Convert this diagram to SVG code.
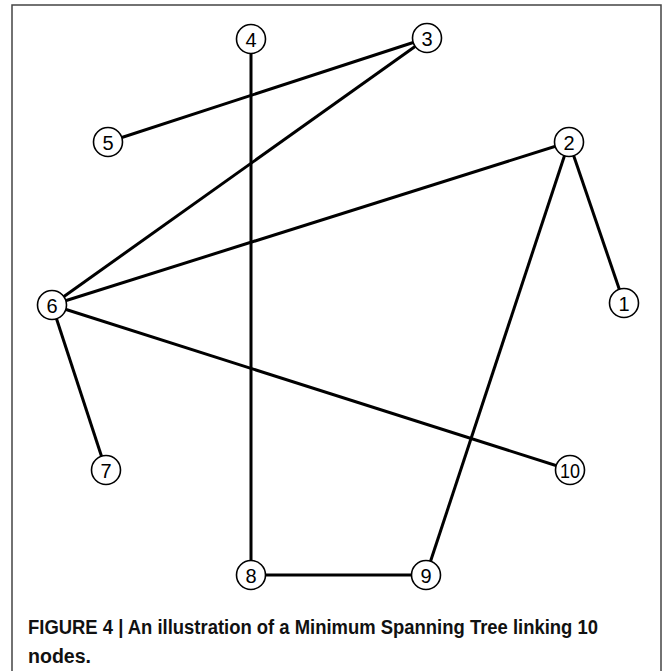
<svg xmlns="http://www.w3.org/2000/svg" width="670" height="671" viewBox="0 0 670 671">
<style>
.edge{stroke:#000;stroke-width:3;stroke-linecap:butt;fill:none}
.node circle{fill:#fff;stroke:#000;stroke-width:1.6}
.node text{font-family:"Liberation Sans",Arial,sans-serif;font-size:20px;fill:#000;text-anchor:middle;dominant-baseline:central}
.cap{font-family:"Liberation Sans",Arial,sans-serif;font-size:20px;font-weight:bold;fill:#111}
</style>
<rect x="0" y="0" width="670" height="671" fill="#fff"/>
<path d="M12,680 V5 H661 V680" fill="none" stroke="#444" stroke-width="1.5"/>
<g id="connectors">
<line class="edge" x1="251" y1="39" x2="251" y2="575"/>
<line class="edge" x1="427" y1="38" x2="108" y2="142"/>
<line class="edge" x1="427" y1="38" x2="52" y2="305"/>
<line class="edge" x1="569" y1="142" x2="52" y2="305"/>
<line class="edge" x1="569" y1="142" x2="624" y2="303"/>
<line class="edge" x1="569" y1="142" x2="426" y2="575"/>
<line class="edge" x1="52" y1="305" x2="106" y2="470"/>
<line class="edge" x1="52" y1="305" x2="570" y2="470"/>
<line class="edge" x1="251" y1="575" x2="426" y2="575"/>
</g>
<g id="node1" class="node"><circle cx="624" cy="303" r="14.5"/><text x="624" y="304">1</text></g>
<g id="node2" class="node"><circle cx="569" cy="142" r="14.5"/><text x="569" y="143">2</text></g>
<g id="node3" class="node"><circle cx="427" cy="38" r="14.5"/><text x="427" y="39">3</text></g>
<g id="node4" class="node"><circle cx="251" cy="39" r="14.5"/><text x="251" y="40">4</text></g>
<g id="node5" class="node"><circle cx="108" cy="142" r="14.5"/><text x="108" y="143">5</text></g>
<g id="node6" class="node"><circle cx="52" cy="305" r="14.5"/><text x="52" y="306">6</text></g>
<g id="node7" class="node"><circle cx="106" cy="470" r="14.5"/><text x="106" y="471">7</text></g>
<g id="node8" class="node"><circle cx="251" cy="575" r="14.5"/><text x="251" y="576">8</text></g>
<g id="node9" class="node"><circle cx="426" cy="575" r="14.5"/><text x="426" y="576">9</text></g>
<g id="node10" class="node"><circle cx="570" cy="470" r="14.5"/><text x="570" y="471" textLength="20" lengthAdjust="spacingAndGlyphs">10</text></g>
<text class="cap" x="28" y="634" textLength="570" lengthAdjust="spacingAndGlyphs">FIGURE 4 | An illustration of a Minimum Spanning Tree linking 10</text>
<text class="cap" x="28" y="663" textLength="63" lengthAdjust="spacingAndGlyphs">nodes.</text>
</svg>
